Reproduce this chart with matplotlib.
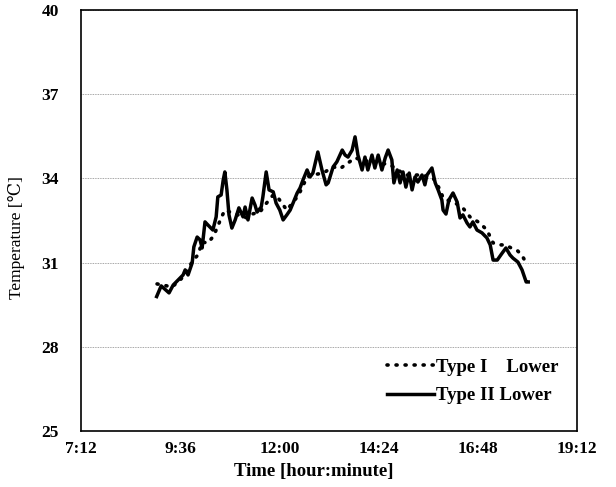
import numpy as np
import matplotlib.pyplot as plt
from matplotlib.ticker import FuncFormatter

# Tiempo en horas decimales y temperatura en grados C
t_lower_2 = [9.03, 9.14, 9.33, 9.43, 9.55, 9.67, 9.72, 9.79, 9.89, 9.93, 10.01, 10.08,
             10.13, 10.20, 10.27, 10.39, 10.47, 10.51, 10.59, 10.64, 10.68, 10.73, 10.78,
             10.85, 10.93, 11.02, 11.12, 11.17, 11.24, 11.34, 11.41, 11.46, 11.56, 11.60,
             11.68, 11.75, 11.85, 11.92, 12.01, 12.09, 12.18, 12.26, 12.33, 12.43, 12.50,
             12.57, 12.67, 12.74, 12.81, 12.93, 13.03, 13.13, 13.18, 13.30, 13.39, 13.52,
             13.59, 13.66, 13.76, 13.83, 13.90, 14.00, 14.07, 14.14, 14.24, 14.31, 14.39,
             14.48, 14.56, 14.63, 14.72, 14.77, 14.85, 14.92, 14.99, 15.06, 15.14, 15.21,
             15.28, 15.35, 15.45, 15.52, 15.57, 15.69, 15.77, 15.84, 15.93, 15.96, 16.03,
             16.10, 16.20, 16.30, 16.37, 16.44, 16.54, 16.61, 16.68, 16.78, 16.90, 17.02,
             17.10, 17.17, 17.27, 17.39, 17.48, 17.58, 17.65, 17.77, 17.87, 17.97, 18.02]
temp_lower_2 = [29.79, 30.17, 29.92, 30.20, 30.38, 30.56, 30.74, 30.56, 30.99, 31.56, 31.91, 31.81,
                31.52, 32.45, 32.34, 32.16, 32.63, 33.34, 33.41, 33.94, 34.23, 33.59, 32.70,
                32.23, 32.52, 32.95, 32.63, 32.98, 32.52, 33.30, 33.05, 32.80, 32.98, 33.34,
                34.23, 33.59, 33.52, 33.12, 32.87, 32.52, 32.70, 32.87, 33.12, 33.48, 33.66,
                33.94, 34.30, 34.05, 34.19, 34.94, 34.30, 33.77, 33.84, 34.41, 34.59, 35.01,
                34.83, 34.76, 35.01, 35.48, 34.83, 34.30, 34.76, 34.30, 34.83, 34.37, 34.83,
                34.30, 34.73, 35.01, 34.66, 33.84, 34.30, 33.84, 34.23, 33.69, 34.19, 33.59,
                34.05, 33.87, 34.12, 33.77, 34.12, 34.37, 33.84, 33.59, 33.23, 32.87, 32.73,
                33.23, 33.48, 33.16, 32.59, 32.70, 32.41, 32.27, 32.45, 32.16, 32.06, 31.88,
                31.63, 31.09, 31.09, 31.34, 31.52, 31.27, 31.16, 31.02, 30.74, 30.31, 30.31]

t_lower_1 = [9.04, 9.18, 9.40, 9.60, 9.76, 9.91, 10.03, 10.13, 10.27, 10.37, 10.44, 10.51,
             10.59, 10.68, 10.93, 11.22, 11.34, 11.53, 11.65, 11.85, 11.97, 12.18, 12.43,
             12.50, 12.67, 12.79, 13.06, 13.30, 13.47, 13.66, 13.83, 14.00, 14.19, 14.43,
             14.68, 14.87, 15.04, 15.23, 15.45, 15.72, 15.89, 15.96, 16.06, 16.25, 16.42,
             16.61, 16.73, 16.85, 17.02, 17.17, 17.34, 17.46, 17.65, 17.77, 17.89, 17.97]
temp_lower_1 = [30.24, 30.20, 30.13, 30.38, 30.67, 31.09, 31.27, 31.73, 31.70, 31.88, 32.06, 32.30,
                32.59, 32.87, 32.73, 32.59, 32.73, 32.80, 33.05, 33.41, 33.30, 32.87, 33.34,
                33.52, 34.05, 34.12, 34.19, 34.41, 34.35, 34.55, 34.73, 34.66, 34.59, 34.55,
                34.48, 34.30, 34.12, 34.12, 34.12, 34.01, 33.59, 33.30, 33.23, 33.12, 32.98,
                32.63, 32.52, 32.41, 32.16, 31.70, 31.63, 31.63, 31.49, 31.41, 31.20, 30.99]

x_ticks = [7.2, 9.6, 12.0, 14.4, 16.8, 19.2]
y_ticks = [25, 28, 31, 34, 37, 40]

serif = ['Liberation Serif', 'DejaVu Serif']
plt.rcParams['font.family'] = serif


def hhmm(x, pos=None):
    minutos = int(round(x * 60))
    return f"{minutos // 60}:{minutos % 60:02d}"


fig = plt.figure(figsize=(6.16, 4.87), dpi=100)
ax = fig.add_axes([0.1315, 0.115, 0.8052, 0.8645])

ax.plot(t_lower_1, temp_lower_1, color='black', linewidth=2.6,
        linestyle=(0, (0.3, 2.2)), dash_capstyle='round', label='Type I    Lower')
ax.plot(t_lower_2, temp_lower_2, color='black', linewidth=2.5,
        solid_joinstyle='round', label='Type II Lower')

ax.set_xlim(7.2, 19.2)
ax.set_ylim(25, 40)
ax.set_xticks(x_ticks)
ax.set_yticks(y_ticks)
ax.xaxis.set_major_formatter(FuncFormatter(hhmm))
ax.tick_params(axis='both', length=0, labelsize=12.5)
ax.tick_params(axis='x', pad=7)
ax.tick_params(axis='y', pad=16)
for lbl in ax.get_xticklabels() + ax.get_yticklabels():
    lbl.set_fontweight('bold')

ax.grid(axis='y', color='#888888', linestyle=(0, (1, 1)), linewidth=0.6)
ax.set_axisbelow(True)
for sp in ax.spines.values():
    sp.set_linewidth(1.2)
    sp.set_color('black')

ax.set_xlabel('Time [hour:minute]', fontsize=13.5, fontweight='bold')
ax.xaxis.set_label_coords(0.47, -0.075)
ax.set_ylabel('Temperature [℃]', fontsize=12.5)
ax.yaxis.set_label_coords(-0.112, 0.46)

leg = ax.legend(loc='center', bbox_to_anchor=(0.79, 0.118), frameon=False,
                handlelength=2.5, handletextpad=0.1, labelspacing=0.6,
                prop={'family': serif, 'weight': 'bold', 'size': 13.5})

fig.savefig('out.png', dpi=100)
